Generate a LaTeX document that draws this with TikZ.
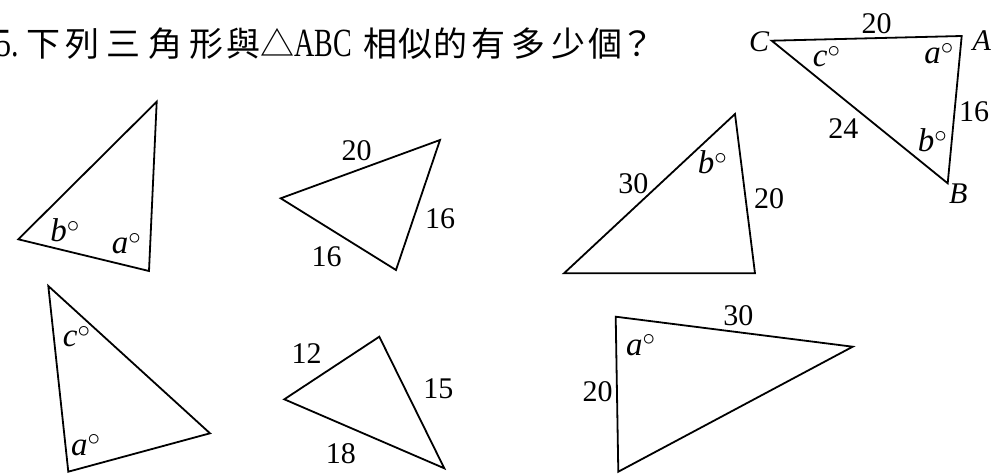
\documentclass[tikz,border=0pt]{standalone}
\usepackage{fontspec}
\usepackage{graphicx}
\setmainfont{Liberation Serif}
\newfontfamily\cjk{Noto Sans CJK TC}
\usepackage{tikz}

% espacio entre caracteres del titulo
\newcommand{\sk}[1]{\hspace{#1pt}}

\begin{document}
\begin{tikzpicture}[x=1pt, y=-1pt,
  tri/.style={line width=1.8pt, line join=miter},
  side/.style={anchor=base, inner sep=0pt, font=\fontsize{30}{30}\selectfont},
  vert/.style={anchor=base, inner sep=0pt, font=\fontsize{30}{30}\selectfont\itshape},
  ang/.style={anchor=base, inner sep=0pt, font=\fontsize{33}{33}\selectfont}]
  \useasboundingbox (0,0) rectangle (1005,474);

  % Titulo
  \node[anchor=base west, inner sep=0pt, font=\cjk\fontsize{34}{34}\selectfont] (title) at (-4,56)
    {\scalebox{0.75}[1]{\rmfamily\fontsize{40}{40}\selectfont 5.}\sk{7.5}下\sk{5.5}列\sk{7}三\sk{7.5}角\sk{7.5}形\sk{2.5}與\sk{0}△\sk{0}\scalebox{0.7}[1]{\rmfamily\fontsize{40}{40}\selectfont ABC}\sk{12}相\sk{1}似\sk{1}的\sk{3.5}有\sk{6}多\sk{6}少\sk{3}個\sk{-2}？};

  % Triangulo ABC
  \coordinate (C) at (771.7,40.7);
  \coordinate (A) at (961.7,36);
  \coordinate (B) at (947.7,183.3);
  \draw[tri] (C) -- (A) -- (B) -- cycle;
  \node[vert] (lC) at (759,51.7) {C};
  \node[vert] (lA) at (981.7,50) {A};
  \node[vert] (lB) at (958.3,203.3) {B};
  \node[side] (sCA) at (876.7,33.3) {20};
  \node[side] (sAB) at (974,121.7) {16};
  \node[side] (sBC) at (843.3,138.3) {24};
  \node[ang] (angC) at (826.7,66.7) {\textit{c}$^\circ$};
  \node[ang] (angA) at (939,63.3) {\textit{a}$^\circ$};
  \node[ang] (angB) at (932.5,151.7) {\textit{b}$^\circ$};

  % Triangulo 1
  \coordinate (T1a) at (156.7,101.7);
  \coordinate (T1b) at (18.3,239.3);
  \coordinate (T1c) at (149,271);
  \draw[tri] (T1a) -- (T1b) -- (T1c) -- cycle;
  \node[ang] (ang1b) at (65,241.7) {\textit{b}$^\circ$};
  \node[ang] (ang1a) at (126.7,253.3) {\textit{a}$^\circ$};

  % Triangulo 2
  \coordinate (T2a) at (280.7,198.3);
  \coordinate (T2b) at (440,140);
  \coordinate (T2c) at (396,270);
  \draw[tri] (T2a) -- (T2b) -- (T2c) -- cycle;
  \node[side] (s2ab) at (356.7,160) {20};
  \node[side] (s2bc) at (440,228.3) {16};
  \node[side] (s2ca) at (326.7,266.7) {16};

  % Triangulo 3
  \coordinate (T3a) at (735,114);
  \coordinate (T3b) at (564,273.3);
  \coordinate (T3c) at (755,273.3);
  \draw[tri] (T3a) -- (T3b) -- (T3c) -- cycle;
  \node[side] (s3ab) at (633.3,193.3) {30};
  \node[side] (s3ca) at (769.2,208.3) {20};
  \node[ang] (ang3a) at (712.5,173.3) {\textit{b}$^\circ$};

  % Triangulo 4
  \coordinate (T4a) at (48.3,286);
  \coordinate (T4b) at (68.3,471.7);
  \coordinate (T4c) at (210,433.3);
  \draw[tri] (T4a) -- (T4b) -- (T4c) -- cycle;
  \node[ang] (ang4a) at (76.7,346.7) {\textit{c}$^\circ$};
  \node[ang] (ang4b) at (85.8,455) {\textit{a}$^\circ$};

  % Triangulo 5
  \coordinate (T5a) at (284.3,399.3);
  \coordinate (T5b) at (379.3,336.7);
  \coordinate (T5c) at (444.3,468.3);
  \draw[tri] (T5a) -- (T5b) -- (T5c) -- cycle;
  \node[side] (s5ab) at (306.7,363.3) {12};
  \node[side] (s5bc) at (438.3,398.3) {15};
  \node[side] (s5ca) at (340.8,463.3) {18};

  % Triangulo 6
  \coordinate (T6a) at (615.7,316.7);
  \coordinate (T6b) at (852.7,346.7);
  \coordinate (T6c) at (618.3,471.7);
  \draw[tri] (T6a) -- (T6b) -- (T6c) -- cycle;
  \node[side] (s6ab) at (738.3,325) {30};
  \node[side] (s6ca) at (597.5,401.7) {20};
  \node[ang] (ang6a) at (640.8,355) {\textit{a}$^\circ$};
\end{tikzpicture}
\end{document}
